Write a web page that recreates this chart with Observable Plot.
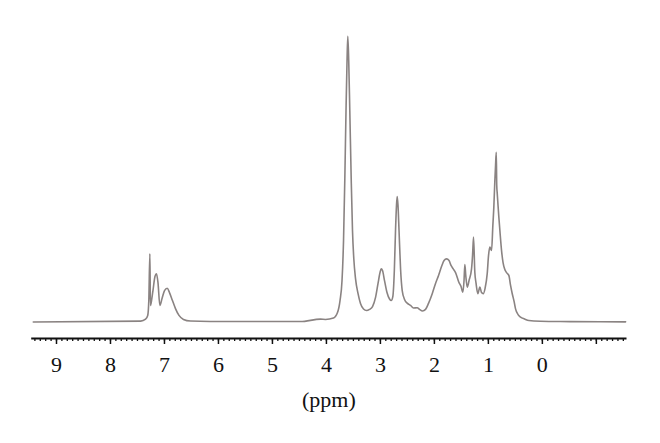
<!DOCTYPE html>
<html><head><meta charset="utf-8">
<script src="https://cdn.jsdelivr.net/npm/d3@7"></script>
<script src="https://cdn.jsdelivr.net/npm/@observablehq/plot@0.6"></script>
<style>body{margin:0;background:#fff;}</style>
</head><body><div id="chart"></div>
<script>
// Chemical shift (ppm) and relative intensity
const ppm = [9.43, 7.44, 7.35, 7.31, 7.29, 7.27, 7.26, 7.245, 7.213, 7.176, 7.148, 7.12, 7.085, 7.045, 6.999, 6.95, 6.907, 6.852, 6.796, 6.731, 6.648, 6.518, 6.148, 4.48, 4.11, 4.017, 3.869, 3.795, 3.748, 3.711, 3.683, 3.659, 3.637, 3.618, 3.604, 3.587, 3.567, 3.541, 3.517, 3.493, 3.461, 3.415, 3.369, 3.313, 3.257, 3.202, 3.146, 3.09, 3.044, 3.007, 2.985, 2.961, 2.924, 2.878, 2.831, 2.80, 2.77, 2.742, 2.72, 2.702, 2.689, 2.674, 2.655, 2.627, 2.596, 2.553, 2.498, 2.442, 2.387, 2.318, 2.275, 2.22, 2.164, 2.109, 2.04, 1.979, 1.923, 1.868, 1.821, 1.775, 1.729, 1.692, 1.651, 1.608, 1.547, 1.506, 1.473, 1.451, 1.436, 1.419, 1.391, 1.358, 1.312, 1.293, 1.275, 1.251, 1.228, 1.195, 1.158, 1.127, 1.095, 1.062, 1.021, 0.997, 0.973, 0.941, 0.917, 0.899, 0.88, 0.867, 0.854, 0.845, 0.836, 0.821, 0.806, 0.784, 0.756, 0.728, 0.70, 0.663, 0.621, 0.589, 0.558, 0.524, 0.497, 0.45, 0.404, 0.33, 0.25, 0.033, -0.337, -1.078, -1.542];
const intensity = [0, 0.3, 1.0, 2.3, 7.5, 23.9, 5.8, 6.9, 11.0, 15.9, 16.9, 13.8, 5.8, 8.2, 11.0, 11.8, 10.3, 7.5, 4.7, 2.3, 0.9, 0.35, 0.2, 0.15, 1.0, 0.9, 1.4, 3.3, 7.5, 14.5, 28.5, 50.2, 74.0, 91.5, 100, 91.5, 74.0, 50.2, 32.0, 22.2, 15.2, 10.0, 6.5, 4.55, 4.0, 4.4, 5.4, 8.6, 13.5, 17.3, 18.6, 18.0, 14.5, 10.3, 8.05, 7.5, 8.9, 18.0, 32.0, 40.8, 43.9, 40.8, 32.0, 18.7, 11.0, 7.9, 6.5, 5.8, 4.9, 5.0, 4.4, 3.85, 4.4, 6.5, 9.9, 13.5, 16.3, 19.4, 21.5, 22.1, 21.5, 19.8, 18.6, 17.3, 13.9, 12.4, 10.4, 14.5, 20.1, 16.3, 12.2, 14.5, 18.6, 23.3, 29.7, 17.4, 13.5, 9.9, 12.2, 10.3, 9.9, 11.7, 17.0, 23.3, 26.2, 25.0, 33.8, 40.2, 49.5, 54.8, 59.4, 47.8, 45.0, 40.8, 36.7, 31.3, 25.0, 20.8, 18.6, 17.3, 16.3, 12.8, 9.9, 7.2, 4.6, 2.6, 1.7, 1.05, 0.5, 0.25, 0.15, 0.1, 0.05];
const majorTicks = [9, 8, 7, 6, 5, 4, 3, 2, 1, 0, -1];
const tickLabels = ["9", "8", "7", "6", "5", "4", "3", "2", "1", "0", ""];
const axisLabel = "(ppm)";

const data = ppm.map((p, i) => ({ppm: p, value: intensity[i]}));
const minorTicks = d3.range(-15, 95).map(i => i / 10);
const serif = "'Liberation Serif', 'DejaVu Serif', serif";

const chart = Plot.plot({
  width: 660,
  height: 443,
  marginLeft: 31.7,
  marginRight: 35,
  marginTop: 20,
  marginBottom: 105,
  style: {fontFamily: serif, background: "#fff", color: "#111"},
  x: {domain: [9.45, -1.54], label: null},
  y: {domain: [0, 100], range: [321.5, 35.7], axis: null},
  marks: [
    Plot.frame({anchor: "bottom", stroke: "#111", strokeWidth: 2}),
    Plot.axisX({ticks: minorTicks, tickSize: 3, strokeWidth: 1.3, tickFormat: () => "", stroke: "#111", label: null}),
    Plot.axisX({ticks: majorTicks, tickSize: 6, tickPadding: 12, strokeWidth: 1.5, stroke: "#111",
      tickFormat: d => tickLabels[majorTicks.indexOf(d)], fontSize: 22, fill: "#111", label: null}),
    Plot.text([axisLabel], {text: d => d, frameAnchor: "bottom", dy: 68, fontSize: 22, fill: "#111"}),
    Plot.line(data, {x: "ppm", y: "value", stroke: "#8a8382", strokeWidth: 1.6, curve: "monotone-x"})
  ]
});
document.getElementById("chart").appendChild(chart);
</script>
</body></html>
